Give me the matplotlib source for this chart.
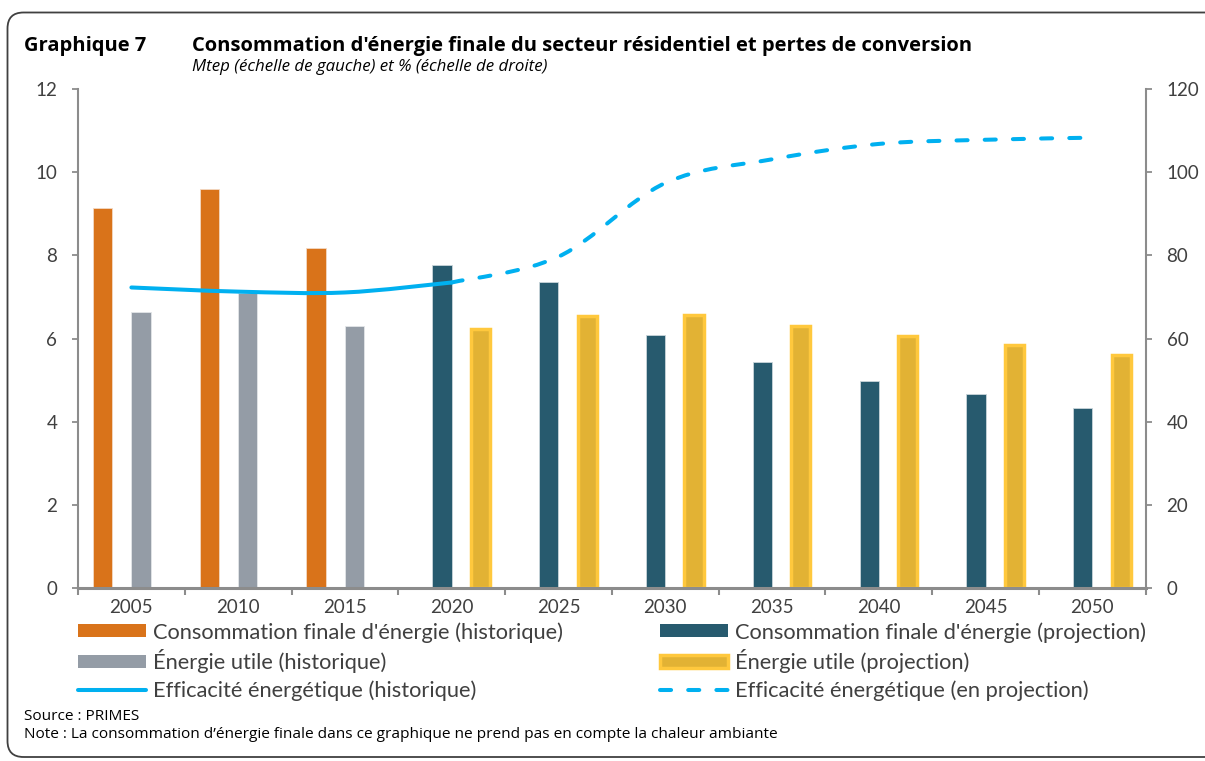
import numpy as np
import matplotlib
matplotlib.use("Agg")
import matplotlib.pyplot as plt
from matplotlib.path import Path
from matplotlib.patches import PathPatch, Patch, FancyBboxPatch
from matplotlib.lines import Line2D
from matplotlib.transforms import IdentityTransform

plt.rcParams["font.family"] = ["Lato", "DejaVu Sans"]
head_font = ["Open Sans", "DejaVu Sans"]

# data
years = ["2005", "2010", "2015", "2020", "2025", "2030", "2035", "2040", "2045", "2050"]
conso_hist = [9.13, 9.59, 8.18]                              # 2005-2015
utile_hist = [6.64, 7.09, 6.31]                              # 2005-2015
conso_proj = [7.76, 7.37, 6.09, 5.43, 4.98, 4.67, 4.33]      # 2020-2050
utile_proj = [6.22, 6.55, 6.57, 6.30, 6.06, 5.85, 5.61]      # 2020-2050
eff_hist = [72.3, 71.3, 71.1, 73.5]                          # 2005-2020, %
eff_proj = [73.5, 79.7, 97.4, 103.1, 106.8, 107.8, 108.3]    # 2020-2050, %

c_orange = "#D9731A"
c_grey = "#949CA6"
c_teal = "#275A6E"
c_yel = "#E2B234"
c_yel_edge = "#FFC83D"
c_blue = "#00B0F0"
c_txt = "#404040"


def smooth_path(xs, ys):
    # Excel-like "smoothed line": cubic bezier through the points
    p = np.column_stack([xs, ys]).astype(float)
    n = len(p)
    verts = [p[0]]
    codes = [Path.MOVETO]
    for i in range(n - 1):
        p_prev = p[i - 1] if i > 0 else p[i]
        p_next = p[i + 2] if i + 2 < n else p[i + 1]
        c1 = p[i] + (p[i + 1] - p_prev) / 6.0
        c2 = p[i + 1] - (p_next - p[i]) / 6.0
        verts += [c1, c2, p[i + 1]]
        codes += [Path.CURVE4] * 3
    return Path(verts, codes)


W, H = 1205, 761
fig = plt.figure(figsize=(W / 100, H / 100), dpi=100)
ax = fig.add_axes([78 / W, 1 - 588.3 / H, (1145.7 - 78) / W, (588.3 - 89) / H])
ax2 = ax.twinx()

x = np.arange(len(years))
xh = x[:3]
xp = x[3:]
bw = 0.18

ax.bar(xh - 1.5 * bw, conso_hist, bw, color=c_orange, edgecolor="#F3D9C4", linewidth=0.6, zorder=2)
ax.bar(xh + 0.5 * bw, utile_hist, bw, color=c_grey, edgecolor="#E3E5E8", linewidth=0.6, zorder=2)
ax.bar(xp - 0.5 * bw, conso_proj, bw, color=c_teal, edgecolor="#C9D5DA", linewidth=0.6, zorder=2)
ax.bar(xp + 1.5 * bw, utile_proj, bw, color=c_yel, edgecolor=c_yel_edge, linewidth=2.5, zorder=2)

ax.set_xlim(-0.5, len(years) - 0.5)
ax.set_ylim(0, 12)
ax2.set_ylim(0, 120)

# efficiency lines on right scale
xe_h = np.arange(len(eff_hist))
xe_p = np.arange(3, 3 + len(eff_proj))
lw = 2.9
solid = PathPatch(smooth_path(xe_h, eff_hist), fill=False, edgecolor=c_blue, linewidth=lw,
                  capstyle="round", joinstyle="round", zorder=3)
dashed = PathPatch(smooth_path(xe_p, eff_proj), fill=False, edgecolor=c_blue, linewidth=lw,
                   linestyle=(0, (2.75, 4.25)), capstyle="round", joinstyle="round", zorder=3)
ax2.add_patch(solid)
ax2.add_patch(dashed)

# axes styling
spine_c = "#8C8C8C"
for a in (ax, ax2):
    a.spines["top"].set_visible(False)
    a.set_facecolor("none")
ax.spines["right"].set_visible(False)
ax2.spines["left"].set_visible(False)
ax2.spines["bottom"].set_visible(False)
ax.spines["left"].set_color(spine_c)
ax.spines["left"].set_linewidth(1.5)
ax2.spines["right"].set_color(spine_c)
ax2.spines["right"].set_linewidth(1.5)
ax.spines["bottom"].set_color(spine_c)
ax.spines["bottom"].set_linewidth(2.2)

ax.set_yticks(np.arange(0, 13, 2))
ax2.set_yticks(np.arange(0, 121, 20))
ax.tick_params(axis="y", direction="out", length=4, width=1.3, color=spine_c,
               labelsize=13.5, labelcolor=c_txt, pad=11)
ax2.tick_params(axis="y", direction="out", length=4, width=1.3, color=spine_c,
                labelsize=13.5, labelcolor=c_txt, pad=11)

ax.set_xticks(x)
ax.set_xticklabels(years)
ax.set_xticks(np.arange(-0.5, len(years), 1.0), minor=True)
ax.tick_params(axis="x", which="major", length=0, labelsize=13.5, labelcolor=c_txt, pad=8)
ax.tick_params(axis="x", which="minor", direction="out", length=5, width=1.5, color=spine_c)

# legend
handles = [
    Patch(facecolor=c_orange, edgecolor="none"),
    Patch(facecolor=c_grey, edgecolor="none"),
    Line2D([], [], color=c_blue, linewidth=lw, solid_capstyle="round"),
    Patch(facecolor=c_teal, edgecolor="none"),
    Patch(facecolor=c_yel, edgecolor=c_yel_edge, linewidth=2.5),
    Line2D([], [], color=c_blue, linewidth=lw, linestyle=(0, (2.75, 4.25)), dash_capstyle="round"),
]
labels = [
    "Consommation finale d'énergie (historique)",
    "Énergie utile (historique)",
    "Efficacité énergétique (historique)",
    "Consommation finale d'énergie (projection)",
    "Énergie utile (projection)",
    "Efficacité énergétique (en projection)",
]
leg = fig.legend(handles, labels, ncol=2, loc="upper left",
                 bbox_to_anchor=(78 / W, 1 - 622 / H), frameon=False,
                 fontsize=15.75, handlelength=3.1, handleheight=0.55, handletextpad=0.33,
                 columnspacing=4.45, labelspacing=0.31, borderpad=0, borderaxespad=0)
for t in leg.get_texts():
    t.set_color(c_txt)

# titles and notes
fig.text(24 / W, 1 - 46 / H, "Graphique 7", fontsize=14.5, fontweight="bold", va="center",
         color="black", family=head_font)
fig.text(192 / W, 1 - 46 / H,
         "Consommation d'énergie finale du secteur résidentiel et pertes de conversion",
         fontsize=14.5, fontweight="bold", va="center", color="black", family=head_font)
fig.text(192 / W, 1 - 67 / H, "Mtep (échelle de gauche) et % (échelle de droite)",
         fontsize=12.2, style="italic", va="center", color="black", family=head_font)
fig.text(24 / W, 1 - 716 / H, "Source : PRIMES", fontsize=11.1, va="center", color="black",
         family=head_font)
fig.text(24 / W, 1 - 734 / H,
         "Note : La consommation d\u2019énergie finale dans ce graphique ne prend pas en compte la chaleur ambiante",
         fontsize=11.1, va="center", color="black", family=head_font)

# rounded frame
frame = FancyBboxPatch((7.5, 4), 1240, 744.5, boxstyle="round,pad=0,rounding_size=16",
                       transform=IdentityTransform(), fill=False, edgecolor="#404040",
                       linewidth=1.3, clip_on=False)
fig.patches.append(frame)

fig.savefig("out.png", dpi=100)
